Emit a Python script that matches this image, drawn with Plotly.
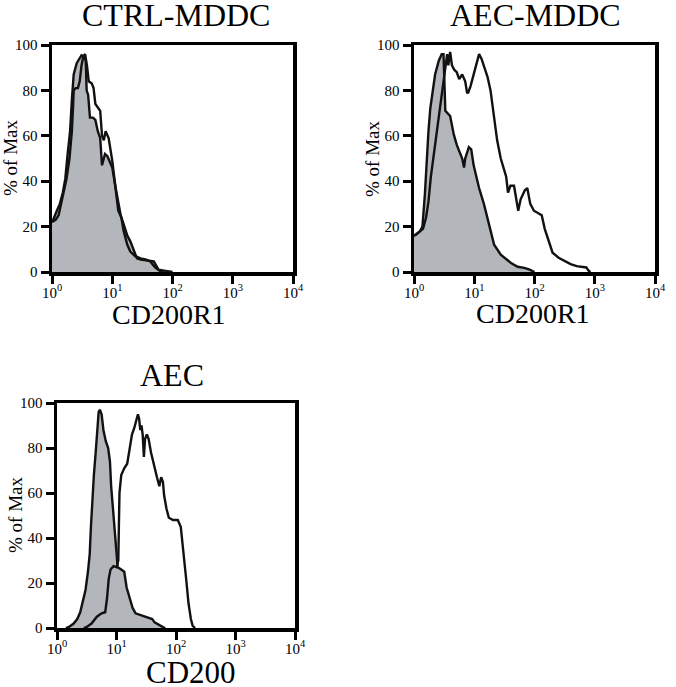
import plotly.graph_objects as go

W, H = 676, 687

# ---------------- data (log10 of fluorescence intensity, % of max) ----------------
# Panel 1: CTRL-MDDC, CD200R1
ctrl_iso_log = [0.0, 0.02, 0.08, 0.13, 0.18, 0.22, 0.26, 0.30, 0.33, 0.36, 0.41, 0.45, 0.49, 0.53, 0.56,
                0.575, 0.60, 0.63, 0.68, 0.72, 0.76, 0.80, 0.83, 0.86, 0.88, 0.92, 0.95, 1.0, 1.05, 1.10,
                1.14, 1.19, 1.25, 1.30, 1.36, 1.41, 1.47, 1.52, 1.60, 1.69, 1.74, 1.77, 1.86, 1.97, 2.0]
ctrl_iso_pct = [22, 23, 27, 30, 35, 41, 52, 62, 76, 87, 92, 94, 95.5, 95, 93,
                80, 78, 68, 68, 67, 62, 59, 47, 50, 52, 51, 49, 46, 38, 31,
                25, 21, 16, 13.5, 9, 6, 5.5, 5.4, 5, 4.7, 2.5, 1, 0.6, 0.3, 0]
ctrl_ab_log = [0.0, 0.06, 0.11, 0.17, 0.24, 0.29, 0.33, 0.35, 0.36, 0.39, 0.43, 0.46, 0.49, 0.52, 0.55,
               0.58, 0.61, 0.66, 0.69, 0.72, 0.77, 0.80, 0.83, 0.86, 0.89, 0.94, 1.0, 1.05, 1.10, 1.15,
               1.19, 1.25, 1.30, 1.38, 1.47, 1.55, 1.63, 1.68, 1.72, 1.80, 1.85]
ctrl_ab_pct = [22, 23, 25, 32, 41, 50, 62, 73, 80, 81, 81, 84, 91, 95, 96,
               91, 84, 83, 81, 74, 72, 71, 60, 58, 62, 59, 49, 38, 27, 24,
               18, 12, 9, 7, 6, 5.5, 4.7, 3, 1.8, 0.3, 0]

# Panel 2: AEC-MDDC, CD200R1
aecm_iso_log = [0.0, 0.04, 0.10, 0.14, 0.18, 0.21, 0.24, 0.27, 0.30, 0.35, 0.41, 0.46, 0.49, 0.50, 0.52,
                0.60, 0.66, 0.71, 0.80, 0.83, 0.85, 0.91, 0.95, 0.99, 1.08, 1.16, 1.24, 1.33, 1.44, 1.61,
                1.72, 1.83, 1.92, 2.0]
aecm_iso_pct = [16, 16.5, 18, 20, 34, 50, 62, 72, 78, 87, 93, 96, 96, 85, 71,
                68.7, 60.6, 56, 50, 46, 50, 55, 54, 47, 37, 30, 22, 12, 7.6, 4,
                2.3, 1.8, 1, 0]
aecm_ab_log = [0.0, 0.05, 0.10, 0.15, 0.20, 0.24, 0.28, 0.32, 0.38, 0.43, 0.47, 0.50, 0.53, 0.55, 0.57,
               0.60, 0.63, 0.67, 0.71, 0.75, 0.80, 0.85, 0.88, 0.90, 0.94, 0.99, 1.04, 1.08, 1.12, 1.16,
               1.22, 1.27, 1.33, 1.38, 1.44, 1.50, 1.53, 1.56, 1.60, 1.66, 1.70, 1.73, 1.77, 1.84, 1.88,
               1.93, 1.99, 2.05, 2.12, 2.17, 2.23, 2.30, 2.40, 2.50, 2.60, 2.70, 2.80, 2.86, 2.90, 2.93]
aecm_ab_pct = [16, 17, 18, 19, 24, 31, 42, 50, 62, 72, 78, 86, 92, 96, 91,
               97, 91, 89, 88, 85, 87, 84, 79, 79, 82, 87, 93, 96, 94, 91,
               86, 80, 69, 58, 50, 45, 42, 35, 38, 38, 32, 27, 32, 36, 37,
               30, 27, 26, 25, 19, 14, 8.5, 6.3, 5, 3.5, 2.6, 2.4, 2, 0.5, 0]

# Panel 3: AEC, CD200
aec_iso_log = [0.15, 0.20, 0.28, 0.34, 0.39, 0.44, 0.48, 0.52, 0.55, 0.57, 0.59, 0.62, 0.65, 0.68, 0.70,
               0.72, 0.75, 0.78, 0.82, 0.86, 0.89, 0.91, 0.94, 0.97, 1.0, 1.02, 1.08, 1.13, 1.17, 1.22,
               1.27, 1.32, 1.40, 1.50, 1.60, 1.64, 1.70, 1.78, 1.82]
aec_iso_pct = [0, 0.5, 2, 4, 7, 12, 17, 25, 33, 45, 55, 68, 78, 89, 96,
               97, 95, 88, 83, 80, 74, 63, 52, 42, 30, 27, 26, 25, 18, 13,
               9, 6.5, 5.8, 5.2, 4, 2.5, 1.5, 0.4, 0]
aec_ab_log = [0.45, 0.50, 0.58, 0.67, 0.75, 0.81, 0.84, 0.87, 0.90, 0.95, 1.0, 1.03, 1.04, 1.05, 1.08,
              1.13, 1.18, 1.22, 1.26, 1.30, 1.33, 1.36, 1.38, 1.40, 1.42, 1.44, 1.46, 1.48, 1.51, 1.54,
              1.58, 1.63, 1.68, 1.72, 1.75, 1.78, 1.80, 1.84, 1.88, 1.95, 2.03, 2.08, 2.11, 2.14, 2.17,
              2.21, 2.25, 2.28, 2.32]
aec_ab_pct = [0, 0.5, 2, 5, 6.5, 7, 13, 22, 26, 27.5, 27, 30, 45, 60, 68,
              71, 73, 80, 86, 89, 92, 95, 93, 88, 90, 86, 76, 84, 86, 84,
              78, 72, 67, 63, 67, 65, 59, 53, 49, 48, 48, 45, 38, 30, 22,
              11, 4, 1, 0]

panel_titles = ["CTRL-MDDC", "AEC-MDDC", "AEC"]
x_titles = ["CD200R1", "CD200R1", "CD200"]
y_title = "% of Max"
x_tickvals = [1, 10, 100, 1000, 10000]
x_ticktext = ["10<sup>0</sup>", "10<sup>1</sup>", "10<sup>2</sup>", "10<sup>3</sup>", "10<sup>4</sup>"]
y_tickvals = [0, 20, 40, 60, 80, 100]

# ---------------- layout geometry (page pixels) ----------------
panels = [
    dict(x0=52, x1=293, y0=45, y1=272, iso=(ctrl_iso_log, ctrl_iso_pct), ab=(ctrl_ab_log, ctrl_ab_pct),
         title_xy=(176, 15), xt_xy=(169, 314), xt_size=28, yt_xy=(11, 158)),
    dict(x0=414, x1=655, y0=45, y1=272, iso=(aecm_iso_log, aecm_iso_pct), ab=(aecm_ab_log, aecm_ab_pct),
         title_xy=(535, 15), xt_xy=(533, 313), xt_size=28, yt_xy=(372, 159)),
    dict(x0=57, x1=295, y0=403, y1=628, iso=(aec_iso_log, aec_iso_pct), ab=(aec_ab_log, aec_ab_pct),
         title_xy=(172, 375), xt_xy=(191, 672), xt_size=31, yt_xy=(15, 515)),
]


def px(v):
    return v / W


def py(v):
    return 1 - v / H


FONT = "Liberation Serif"
GRAY = "#b3b6ba"

fig = go.Figure()
annotations = []
for i, p in enumerate(panels, start=1):
    xa = "x" if i == 1 else f"x{i}"
    ya = "y" if i == 1 else f"y{i}"
    lx, ly = p["iso"]
    fig.add_trace(go.Scatter(x=[10 ** v for v in lx], y=ly, xaxis=xa, yaxis=ya, mode="lines",
                             fill="tozeroy", fillcolor=GRAY,
                             line=dict(color="#111111", width=2.4), hoverinfo="skip"))
    ax_, ay_ = p["ab"]
    fig.add_trace(go.Scatter(x=[10 ** v for v in ax_], y=ay_, xaxis=xa, yaxis=ya, mode="lines",
                             line=dict(color="#111111", width=2.4), hoverinfo="skip"))
    xkey = "xaxis" if i == 1 else f"xaxis{i}"
    ykey = "yaxis" if i == 1 else f"yaxis{i}"
    fig.update_layout(**{
        xkey: dict(type="log", range=[0, 4], domain=[px(p["x0"]), px(p["x1"])], anchor=ya,
                   tickvals=x_tickvals, ticktext=x_ticktext, ticks="outside", ticklen=8, tickwidth=3,
                   tickcolor="black", showline=True, linewidth=3.5, linecolor="black", mirror=True,
                   showgrid=False, zeroline=False, automargin=False, ticklabelstandoff=-4,
                   tickfont=dict(family=FONT, size=15, color="black")),
        ykey: dict(range=[0, 100], domain=[py(p["y1"]), py(p["y0"])], anchor=xa,
                   tickvals=y_tickvals, ticks="outside", ticklen=8, tickwidth=3, tickcolor="black",
                   showline=True, linewidth=3.5, linecolor="black", mirror=True, showgrid=False,
                   zeroline=False, automargin=False,
                   tickfont=dict(family=FONT, size=15, color="black")),
    })
    tx, ty = p["title_xy"]
    annotations.append(dict(text=panel_titles[i - 1], x=px(tx), y=py(ty), xref="paper", yref="paper",
                            showarrow=False, xanchor="center", yanchor="middle",
                            font=dict(family=FONT, size=32, color="black")))
    cx, cy = p["xt_xy"]
    annotations.append(dict(text=x_titles[i - 1], x=px(cx), y=py(cy), xref="paper", yref="paper",
                            showarrow=False, xanchor="center", yanchor="middle",
                            font=dict(family=FONT, size=p["xt_size"], color="black")))
    yx, yy = p["yt_xy"]
    annotations.append(dict(text=y_title, x=px(yx), y=py(yy), xref="paper", yref="paper",
                            showarrow=False, xanchor="center", yanchor="middle", textangle=-90,
                            font=dict(family=FONT, size=19, color="black")))

fig.update_layout(width=W, height=H, margin=dict(l=0, r=0, t=0, b=0, autoexpand=False),
                  showlegend=False, plot_bgcolor="white", paper_bgcolor="white",
                  hovermode=False, annotations=annotations)

# remove the browser's default 8px body margin so the figure fills the window exactly
fig.write_html("out.html", config={"displayModeBar": False, "staticPlot": True},
               post_script="document.body.style.margin='0';")
